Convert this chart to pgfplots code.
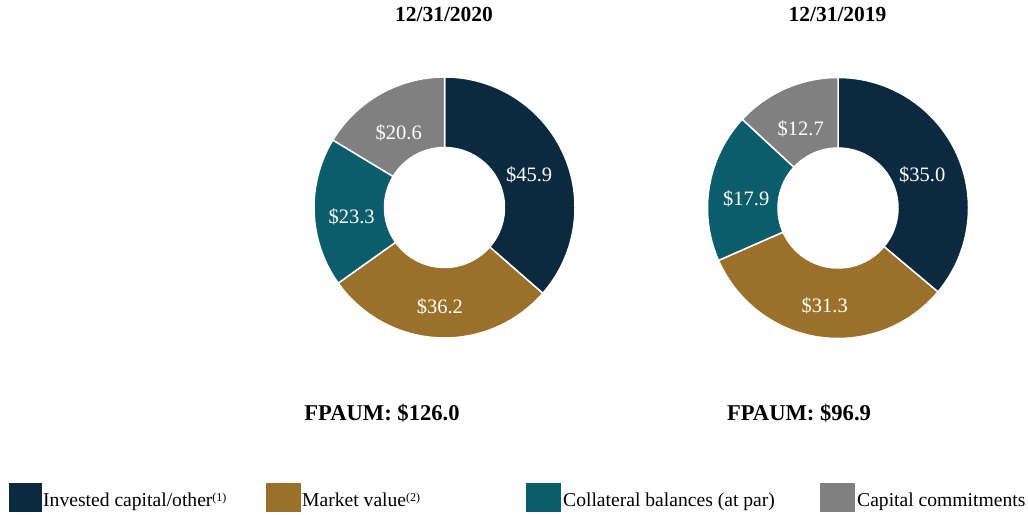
\documentclass[border=0pt]{standalone}
\usepackage{pgfplots}
\pgfplotsset{compat=1.18}
\usepackage{pgfplotstable}
\usepackage{fontspec}
\setmainfont{Liberation Serif}

\definecolor{c0}{HTML}{0B2A3F}
\definecolor{c1}{HTML}{9B702A}
\definecolor{c2}{HTML}{0C5D6B}
\definecolor{c3}{HTML}{808080}

% FPAUM components, $bn
\pgfplotstableread{
value
45.9
36.2
23.3
20.6
}\tabA
\pgfplotstableread{
value
35.0
31.3
17.9
12.7
}\tabB

\newcommand\prepdonut[2]{%
  \gdef\dtot{0}%
  \foreach \i in {0,...,3}{%
    \pgfplotstablegetelem{\i}{value}\of{#1}%
    \pgfmathsetmacro\dtmp{\dtot+\pgfplotsretval}%
    \xdef\dtot{\dtmp}%
  }%
  \gdef\dcum{0}%
  \foreach \i in {0,...,3}{%
    \pgfplotstablegetelem{\i}{value}\of{#1}%
    \let\dval\pgfplotsretval
    \pgfmathsetmacro\dsa{90-360*(\dcum/\dtot)}%
    \pgfmathsetmacro\dcn{\dcum+\dval}%
    \pgfmathsetmacro\dea{90-360*(\dcn/\dtot)}%
    \pgfmathsetmacro\dma{(\dsa+\dea)/2}%
    \expandafter\xdef\csname #2s\i\endcsname{\dsa}%
    \expandafter\xdef\csname #2e\i\endcsname{\dea}%
    \expandafter\xdef\csname #2m\i\endcsname{\dma}%
    \expandafter\xdef\csname #2v\i\endcsname{\dval}%
    \xdef\dcum{\dcn}%
  }%
}
\prepdonut{\tabA}{A}
\prepdonut{\tabB}{B}

% #1 prefix, #2 index, #3 cx, #4 cy
\newcommand\slice[4]{%
  \edef\sa{\csname #1s#2\endcsname}%
  \edef\ea{\csname #1e#2\endcsname}%
  \edef\ma{\csname #1m#2\endcsname}%
  \edef\va{\csname #1v#2\endcsname}%
  \edef\tmpcmd{\noexpand\fill[fill=c#2, draw=white, line width=1.5pt]
    (axis cs:{#3+130.5*cos(\sa)},{#4+130.5*sin(\sa)})
    arc[start angle=\sa, end angle=\ea, radius=130.5pt]
    -- (axis cs:{#3+60*cos(\ea)},{#4+60*sin(\ea)})
    arc[start angle=\ea, end angle=\sa, radius=60pt] -- cycle;
    \noexpand\node[text=white, font=\noexpand\fontsize{20.5}{24}\noexpand\selectfont, anchor=center]
    at (axis cs:{#3+93*cos(\ma)},{#4+93*sin(\ma)-6}) {\noexpand\$\va};}%
  \tmpcmd
}

\begin{document}
\begin{tikzpicture}
\begin{axis}[x=1pt, y=1pt, xmin=0, xmax=1028, ymin=0, ymax=514,
  hide axis, scale only axis, clip=false]
\path (axis cs:0,0) rectangle (axis cs:1028,514);
\pgfplotsinvokeforeach{0,1,2,3}{\slice{A}{#1}{444.5}{306.5}}
\pgfplotsinvokeforeach{0,1,2,3}{\slice{B}{#1}{838}{306}}
\node[anchor=base, font=\fontsize{21.5}{26}\selectfont\bfseries] at (axis cs:444,492.3) {12/31/2020};
\node[anchor=base, font=\fontsize{21.5}{26}\selectfont\bfseries] at (axis cs:837.5,492.3) {12/31/2019};
\node[anchor=base, font=\fontsize{22.6}{27}\selectfont\bfseries] at (axis cs:382,93) {FPAUM: \$126.0};
\node[anchor=base, font=\fontsize{22.6}{27}\selectfont\bfseries] at (axis cs:799,93) {FPAUM: \$96.9};
% legend
\fill[c0] (axis cs:9,2) rectangle (axis cs:42,31);
\fill[c1] (axis cs:266,2) rectangle (axis cs:301,31);
\fill[c2] (axis cs:526,2) rectangle (axis cs:561,31);
\fill[c3] (axis cs:820,2) rectangle (axis cs:855,31);
\node[anchor=base west, inner sep=0pt, font=\fontsize{19.6}{23}\selectfont] at (axis cs:43,7) {Invested capital/other\raisebox{5pt}{\fontsize{12}{14}\selectfont(1)}};
\node[anchor=base west, inner sep=0pt, font=\fontsize{19.6}{23}\selectfont] at (axis cs:302,7) {Market value\raisebox{5pt}{\fontsize{12}{14}\selectfont(2)}};
\node[anchor=base west, inner sep=0pt, font=\fontsize{19.6}{23}\selectfont] at (axis cs:563,7) {Collateral balances (at par)};
\node[anchor=base west, inner sep=0pt, font=\fontsize{19.6}{23}\selectfont] at (axis cs:857,7) {Capital commitments};
\end{axis}
\end{tikzpicture}
\end{document}
